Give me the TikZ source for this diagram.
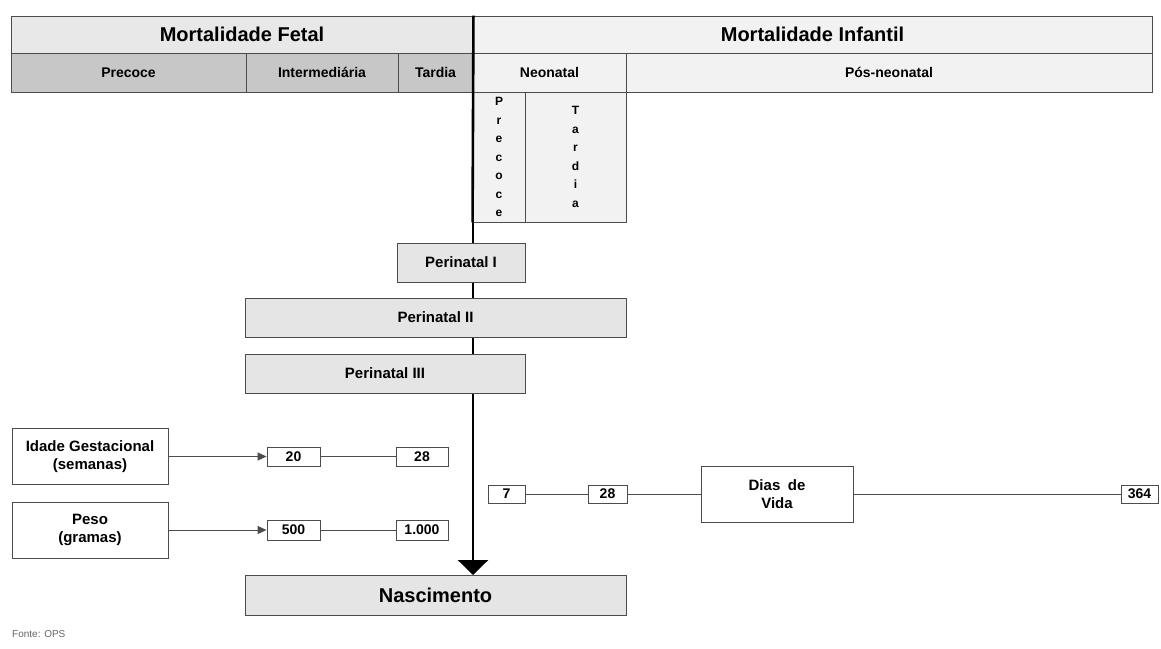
\documentclass[tikz,border=0pt]{standalone}
\usepackage{fontspec}
\setmainfont{Liberation Sans}
\usetikzlibrary{arrows.meta}
\definecolor{fetaldark}{gray}{0.78}
\definecolor{fetallight}{gray}{0.91}
\definecolor{infantlight}{gray}{0.95}
\definecolor{perifill}{gray}{0.90}
\definecolor{edge}{gray}{0.30}
\tikzset{
  cell/.style={draw=edge, line width=0.9pt, inner sep=0pt, align=center,
    font=\bfseries\fontsize{14}{16}\selectfont},
  titlecell/.style={cell, font=\bfseries\fontsize{20}{22}\selectfont},
  vertcell/.style={cell, font=\bfseries\fontsize{12}{18.5}\selectfont},
  perbox/.style={cell, fill=perifill, font=\bfseries\fontsize{15}{17}\selectfont},
  infobox/.style={cell, fill=white, font=\bfseries\fontsize{15}{18}\selectfont},
  numbox/.style={cell, fill=white, font=\bfseries\fontsize{14}{16}\selectfont},
  mainline/.style={line width=2.6pt, black},
  conn/.style={draw=edge, line width=0.9pt},
  connarrow/.style={conn, -{Triangle[length=9pt,width=8pt]}}
}
\begin{document}
\begin{tikzpicture}[x=1pt,y=-1pt]
\fill[white] (0,0) rectangle (1161,648);
\useasboundingbox (0,0) rectangle (1161,648);

% main vertical line (behind the boxes)
\coordinate (top) at (473,16);
\coordinate (bot) at (473,575);
\draw[mainline, -{Triangle[length=15pt,width=30pt]}] (top) -- (bot);

% header rows
\node[titlecell, fill=fetallight, minimum width=462, minimum height=37] (mf) at (242,34.5) {Mortalidade Fetal};
\node[titlecell, fill=infantlight, minimum width=679, minimum height=37] (mi) at (812.5,34.5) {Mortalidade Infantil};

\node[cell, fill=fetaldark, minimum width=235, minimum height=39] (fp) at (128.5,72.5) {Precoce};
\node[cell, fill=fetaldark, minimum width=152, minimum height=39] (fi) at (322,72.5) {Intermediária};
\node[cell, fill=fetaldark, minimum width=75, minimum height=39] (ft) at (435.5,72.5) {Tardia};
\node[cell, fill=infantlight, minimum width=153, minimum height=39] (nn) at (549.5,72.5) {Neonatal};
\node[cell, fill=infantlight, minimum width=526, minimum height=39] (pn) at (889,72.5) {Pós-neonatal};

\node[vertcell, fill=infantlight, minimum width=52, minimum height=130] (np) at (499,157) {P\\r\\e\\c\\o\\c\\e};
\node[vertcell, fill=infantlight, minimum width=101, minimum height=130] (nt) at (575.5,157) {T\\a\\r\\d\\i\\a};

% divider over the header cells
\draw[mainline] (mf.north east) -- (np.south west);

% perinatal boxes
\node[perbox, minimum width=128, minimum height=39] (p1) at (461,262.5) {Perinatal I};
\node[perbox, minimum width=381, minimum height=39] (p2) at (435.5,317.5) {Perinatal II};
\node[perbox, minimum width=280, minimum height=39] (p3) at (385,373.5) {Perinatal III};

% gestational age and weight
\node[infobox, minimum width=156, minimum height=56] (ig) at (90,456.5) {Idade Gestacional\\(semanas)};
\node[numbox, minimum width=53, minimum height=19] (g20) at (293.5,456.5) {20};
\node[numbox, minimum width=52, minimum height=19] (g28) at (422,456.5) {28};
\draw[connarrow] (ig.east) -- (g20.west);
\draw[conn] (g20.east) -- (g28.west);

\node[infobox, minimum width=156, minimum height=56] (pe) at (90,530) {Peso\\(gramas)};
\node[numbox, minimum width=53, minimum height=20] (w500) at (293.5,530) {500};
\node[numbox, minimum width=52, minimum height=20] (w1000) at (422,530) {1.000};
\draw[connarrow] (pe.east) -- (w500.west);
\draw[conn] (w500.east) -- (w1000.west);

% days of life
\node[numbox, minimum width=37, minimum height=18] (d7) at (506.5,494) {7};
\node[numbox, minimum width=39, minimum height=18] (d28) at (607.5,494) {28};
\node[infobox, minimum width=152, minimum height=56] (dv) at (777,494) {Dias\enspace de\\Vida};
\node[numbox, minimum width=37, minimum height=18] (d364) at (1139.5,494) {364};
\draw[conn] (d7.east) -- (d28.west);
\draw[conn] (d28.east) -- (dv.west);
\draw[conn] (dv.east) -- (d364.west);

% birth
\node[perbox, font=\bfseries\fontsize{20}{22}\selectfont, minimum width=381, minimum height=40] (nas) at (435.5,595) {Nascimento};

\node[anchor=west, inner sep=0pt, text=black!60, font=\fontsize{10}{11}\selectfont] (fonte) at (12,634) {Fonte: OPS};
\end{tikzpicture}
\end{document}
